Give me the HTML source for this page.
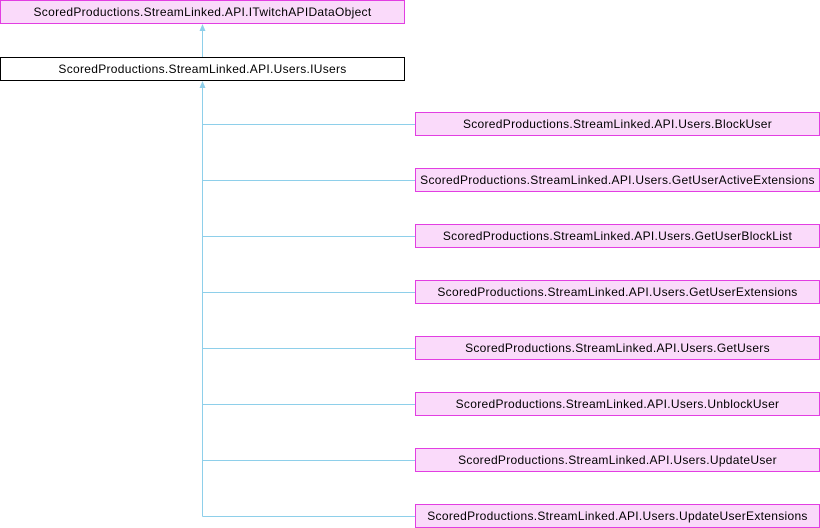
<!DOCTYPE html>
<html><head><style>
body{margin:0;width:820px;height:528px;background:#fff;position:relative;overflow:hidden;font-family:"Liberation Sans",Arial,sans-serif;font-size:12px}
.b{position:absolute;box-sizing:border-box;height:24px;line-height:22px;text-align:center;border:1px solid #e23ee2;background:#fadafa;color:#000;white-space:nowrap;letter-spacing:0.3px}
.w{background:#fff;border-color:#000}
</style></head><body>
<svg width="820" height="528" style="position:absolute;left:0;top:0">
<g stroke="#8ecfea" stroke-width="1" fill="none">
<line x1="202.5" y1="30" x2="202.5" y2="57"/>
<line x1="202.5" y1="87" x2="202.5" y2="516.5"/>
<line x1="202.5" y1="124.5" x2="415" y2="124.5"/>
<line x1="202.5" y1="180.5" x2="415" y2="180.5"/>
<line x1="202.5" y1="236.5" x2="415" y2="236.5"/>
<line x1="202.5" y1="292.5" x2="415" y2="292.5"/>
<line x1="202.5" y1="348.5" x2="415" y2="348.5"/>
<line x1="202.5" y1="404.5" x2="415" y2="404.5"/>
<line x1="202.5" y1="460.5" x2="415" y2="460.5"/>
<line x1="202.5" y1="516.5" x2="415" y2="516.5"/>
</g>
<g fill="#8ecfea">
<polygon points="202.5,24 199.5,31 205.5,31"/>
<polygon points="202.5,81 199.5,88 205.5,88"/>
</g>
</svg>
<div class="b" style="left:0;top:0;width:405px">ScoredProductions.StreamLinked.API.ITwitchAPIDataObject</div>
<div class="b w" style="left:0;top:57px;width:405px">ScoredProductions.StreamLinked.API.Users.IUsers</div>
<div class="b" style="left:415px;top:112px;width:405px">ScoredProductions.StreamLinked.API.Users.BlockUser</div>
<div class="b" style="left:415px;top:168px;width:405px">ScoredProductions.StreamLinked.API.Users.GetUserActiveExtensions</div>
<div class="b" style="left:415px;top:224px;width:405px">ScoredProductions.StreamLinked.API.Users.GetUserBlockList</div>
<div class="b" style="left:415px;top:280px;width:405px">ScoredProductions.StreamLinked.API.Users.GetUserExtensions</div>
<div class="b" style="left:415px;top:336px;width:405px">ScoredProductions.StreamLinked.API.Users.GetUsers</div>
<div class="b" style="left:415px;top:392px;width:405px">ScoredProductions.StreamLinked.API.Users.UnblockUser</div>
<div class="b" style="left:415px;top:448px;width:405px">ScoredProductions.StreamLinked.API.Users.UpdateUser</div>
<div class="b" style="left:415px;top:504px;width:405px">ScoredProductions.StreamLinked.API.Users.UpdateUserExtensions</div>
</body></html>
